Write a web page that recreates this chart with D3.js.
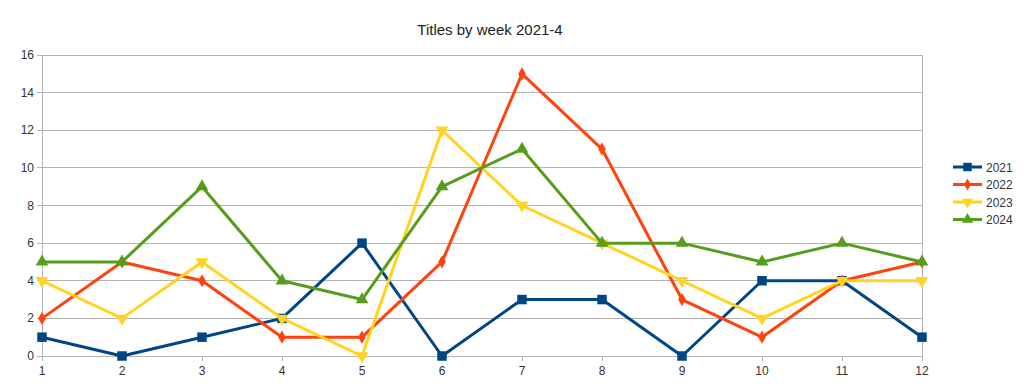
<!DOCTYPE html>
<html><head><meta charset="utf-8">
<script src="https://cdn.jsdelivr.net/npm/d3@7"></script>
<style>body{margin:0;background:#fff}svg{display:block}text{font-family:"Liberation Sans",Arial,sans-serif}</style>
</head><body>
<svg id="c" width="1024" height="388"></svg>
<script>
const weeks = [1,2,3,4,5,6,7,8,9,10,11,12];
const s2021 = [1,0,1,2,6,0,3,3,0,4,4,1];
const s2022 = [2,5,4,1,1,5,15,11,3,1,4,5];
const s2023 = [4,2,5,2,0,12,8,6,4,2,4,4];
const s2024 = [5,5,9,4,3,9,11,6,6,5,6,5];
const seriesNames = ["2021","2022","2023","2024"];
const yTicks = [0,2,4,6,8,10,12,14,16];
const title = "Titles by week 2021-4";

const series = [
  {name:"2021", values:s2021, color:"#004586", sym:d3.symbolSquare, size:90, rot:0},
  {name:"2022", values:s2022, color:"#ff420e", sym:d3.symbolDiamond, size:50, rot:0},
  {name:"2023", values:s2023, color:"#ffd320", sym:d3.symbolTriangle, size:70, rot:180},
  {name:"2024", values:s2024, color:"#579d1c", sym:d3.symbolTriangle, size:70, rot:0}
];

const svg = d3.select("#c");
const x = d3.scaleLinear().domain([1,12]).range([42,922]);
const y = d3.scaleLinear().domain([0,16]).range([356,55]);

svg.append("text").attr("x",490).attr("y",35).attr("text-anchor","middle")
  .attr("font-size",15).attr("fill","#222").text(title);

// grid
svg.append("g").selectAll("line").data(yTicks).join("line")
  .attr("x1",x(1)-5).attr("x2",x(12)).attr("y1",d=>y(d)).attr("y2",d=>y(d))
  .attr("stroke","#b3b3b3").attr("stroke-width",1).attr("shape-rendering","crispEdges");
// y axis line and right border
[1,12].forEach(w=>{
  svg.append("line").attr("x1",x(w)).attr("x2",x(w)).attr("y1",y(16)).attr("y2",y(0))
    .attr("stroke","#b3b3b3").attr("shape-rendering","crispEdges");
});
// x ticks
svg.append("g").selectAll("line").data(weeks).join("line")
  .attr("x1",d=>x(d)).attr("x2",d=>x(d)).attr("y1",y(0)).attr("y2",y(0)+5)
  .attr("stroke","#b3b3b3").attr("shape-rendering","crispEdges");
// y labels
svg.append("g").selectAll("text").data(yTicks).join("text")
  .attr("x",x(1)-8).attr("y",d=>y(d)+4).attr("text-anchor","end")
  .attr("font-size",12).attr("fill","#333").text(d=>d);
// x labels
svg.append("g").selectAll("text").data(weeks).join("text")
  .attr("x",d=>x(d)).attr("y",y(0)+19).attr("text-anchor","middle")
  .attr("font-size",12).attr("fill","#333").text(d=>d);

const line = d3.line().x((d,i)=>x(weeks[i])).y(d=>y(d));
series.forEach(s=>{
  const g = svg.append("g");
  g.append("path").datum(s.values).attr("d",line).attr("fill","none")
    .attr("stroke",s.color).attr("stroke-width",3).attr("stroke-linejoin","round");
  g.selectAll("path.m").data(s.values).join("path").attr("class","m")
    .attr("d",d3.symbol().type(s.sym).size(s.size))
    .attr("transform",(d,i)=>`translate(${x(weeks[i])},${y(d)}) rotate(${s.rot})`)
    .attr("fill",s.color);
});

// legend
const lg = svg.append("g");
series.forEach((s,i)=>{
  const ly = 167 + i*17.5;
  lg.append("line").attr("x1",953).attr("x2",982).attr("y1",ly).attr("y2",ly)
    .attr("stroke",s.color).attr("stroke-width",3);
  lg.append("path").attr("d",d3.symbol().type(s.sym).size(s.size*0.8))
    .attr("transform",`translate(967.5,${ly}) rotate(${s.rot})`).attr("fill",s.color);
  lg.append("text").attr("x",986).attr("y",ly+4.5).attr("font-size",12)
    .attr("fill","#333").text(s.name);
});
</script>
</body></html>
